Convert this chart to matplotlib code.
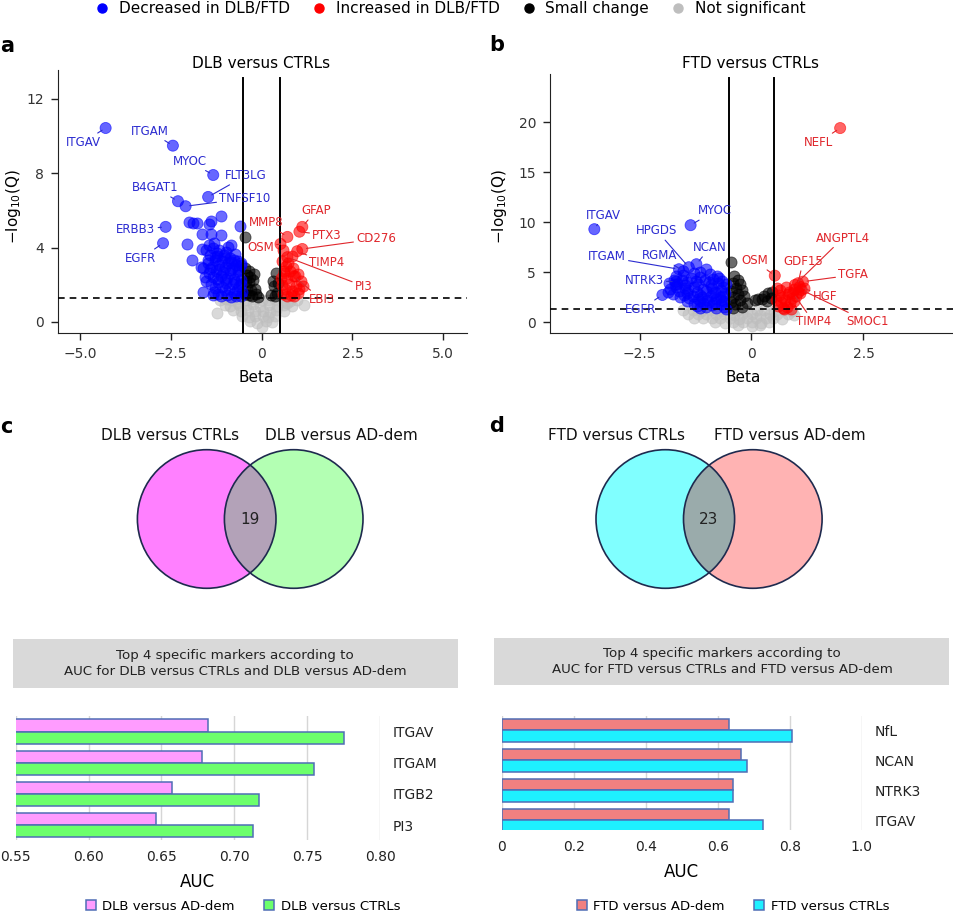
import numpy as np
import matplotlib.pyplot as plt
from matplotlib.patches import Circle, Rectangle, Patch
from matplotlib.lines import Line2D

plt.rcParams['font.family'] = ['DejaVu Sans']

# ============================================================
# DATA
# ============================================================
# --- a: DLB versus CTRLs (beta, -log10 Q) ---
dlb_dec_beta = [-1.13, -2.00, -1.90, -1.77, -1.40, -1.45, -0.60, -1.65, -1.38, -1.13,
                -2.06, -1.63, -1.31, -0.85, -1.91, -1.68, -1.61, -1.22, -0.76, -0.58,
                -1.52, -1.41, -1.33, -1.22, -1.17, -1.04, -0.97, -0.88, -0.73, -0.66,
                -1.48, -1.37, -1.29, -1.18, -1.09, -1.01, -0.92, -0.81, -0.71, -0.62,
                -1.44, -1.34, -1.26, -1.13, -1.06, -0.94, -0.86, -0.77, -0.64, -0.56,
                -1.38, -1.28, -1.21, -1.08, -0.99, -0.91, -0.79, -0.69, -0.61, -0.54,
                -1.19, -1.11, -0.96, -0.84, -0.71, -1.31, -1.57, -1.62,
                -1.47, -1.27, -1.02, -0.83, -0.58, -1.42, -1.16, -0.87, -0.66, -1.52,
                -1.24, -1.02, -0.73, -0.57, -1.33, -1.02, -0.76, -0.58, -1.46, -0.93]
dlb_dec_q = [5.68, 5.36, 5.30, 5.32, 5.41, 5.25, 5.15, 4.74, 4.74, 4.69,
             4.21, 3.92, 4.24, 4.16, 3.31, 2.95, 1.59, 3.53, 3.35, 3.17,
             3.88, 3.62, 3.97, 3.71, 3.86, 3.58, 3.77, 3.46, 3.63, 3.28,
             3.18, 2.97, 3.34, 3.06, 3.27, 2.96, 3.18, 2.92, 3.07, 2.83,
             2.63, 2.41, 2.74, 2.48, 2.68, 2.37, 2.62, 2.33, 2.52, 2.27,
             2.02, 1.83, 2.12, 1.88, 2.07, 1.78, 2.03, 1.74, 1.92, 1.62,
             1.52, 1.38, 1.47, 1.34, 1.41, 1.61, 2.42, 2.88,
             3.35, 3.49, 3.41, 3.21, 3.05, 2.82, 2.87, 2.81, 2.71, 2.21,
             2.31, 2.31, 2.16, 2.01, 1.42, 1.71, 1.55, 1.38, 4.12, 4.02]
dlb_inc_beta = [0.55, 0.66, 0.74, 0.86, 0.61, 0.71, 0.79, 0.91, 1.01, 1.09,
                0.56, 0.64, 0.76, 0.84, 0.96, 1.04, 1.14, 0.59, 0.69, 0.81,
                0.89, 0.99, 0.58, 0.85, 0.53, 0.63]
dlb_inc_q = [3.28, 3.02, 3.19, 2.88, 2.61, 2.37, 2.72, 2.49, 2.58, 2.21,
             1.98, 1.79, 2.03, 1.68, 1.92, 1.77, 1.95, 1.52, 1.39, 1.46,
             1.41, 1.53, 3.88, 3.55, 2.35, 2.75]
dlb_small_beta = [-0.46, -0.45, -0.36, -0.41, -0.31, -0.44, -0.34, -0.24, -0.39, -0.29,
                  -0.19, -0.46, -0.36, -0.26, -0.15, -0.09, -0.21, 0.41, 0.34, 0.43,
                  0.26, 0.31, 0.46, 0.38]
dlb_small_q = [4.57, 2.88, 2.76, 2.52, 2.41, 2.19, 2.12, 2.23, 1.81, 1.72,
               1.79, 1.52, 1.46, 1.41, 1.52, 1.36, 2.55, 2.63, 1.91, 1.55,
               1.47, 2.18, 2.08, 1.38]
dlb_ns_beta = [-1.22, -1.15, -0.98, -0.83, -0.64, -0.42, -0.21, 0.02, 0.18, 0.37, 0.58, 0.79, 0.97, 1.18,
               -1.02, -0.86, -0.61, -0.44, -0.23, -0.04, 0.21, 0.43, 0.62, 0.83,
               -0.78, -0.57, -0.38, -0.17, 0.05, 0.24, 0.41, 0.63,
               -0.55, -0.36, -0.18, 0.03, 0.19, 0.38,
               -0.31, -0.12, 0.11, 0.29, 0.01, -0.66, 0.71]
dlb_ns_q = [0.48, 1.18, 1.22, 1.15, 1.21, 1.17, 1.23, 1.19, 1.16, 1.22, 1.18, 1.14, 1.20, 0.92,
            0.91, 0.86, 0.93, 0.88, 0.94, 0.87, 0.90, 0.85, 0.92, 0.86,
            0.62, 0.57, 0.64, 0.59, 0.61, 0.55, 0.63, 0.58,
            0.31, 0.27, 0.33, 0.29, 0.26, 0.32,
            0.02, -0.04, 0.03, -0.02, -0.28, 1.00, 1.00]
dlb_genes = ['ITGAV', 'ITGAM', 'MYOC', 'FLT3LG', 'B4GAT1', 'TNFSF10', 'ERBB3', 'EGFR',
             'MMP8', 'OSM', 'GFAP', 'PTX3', 'CD276', 'TIMP4', 'PI3', 'EBI3']
dlb_gene_beta = [-4.29, -2.44, -1.33, -1.47, -2.30, -2.09, -2.64, -2.71,
                 0.71, 0.52, 1.12, 1.04, 1.12, 0.98, 0.71, 0.89]
dlb_gene_q = [10.43, 9.48, 7.90, 6.72, 6.49, 6.22, 5.11, 4.23,
              4.57, 4.19, 5.11, 4.85, 3.92, 3.80, 3.48, 2.45]

# --- b: FTD versus CTRLs ---
ftd_dec_beta = [-1.84, -1.74, -1.66, -1.56, -1.44, -1.36, -1.24, -1.16, -1.04, -0.96, -0.86, -0.74, -0.66, -0.56,
                -1.81, -1.69, -1.61, -1.49, -1.41, -1.29, -1.21, -1.09, -1.01, -0.89, -0.81, -0.69, -0.59,
                -1.59, -1.51, -1.39, -1.31, -1.19, -1.11, -0.99, -0.91, -0.79, -0.71, -0.61,
                -1.29, -1.21, -1.09, -1.01, -0.89, -0.79, -0.69, -0.61, -0.56,
                -1.28, -1.14, -0.93, -1.86, -1.02, -0.78, -1.68,
                -1.71, -1.49, -1.19, -0.91, -0.63, -1.76, -1.44, -1.15, -0.86, -0.64,
                -1.44, -1.16, -0.94, -0.67, -1.14, -0.84, -1.52, -0.72]
ftd_dec_q = [3.97, 4.18, 3.82, 4.27, 4.03, 4.41, 4.12, 4.48, 4.19, 4.02, 4.31, 3.88, 4.12, 3.79,
             3.32, 3.48, 3.12, 3.41, 3.18, 3.52, 3.03, 3.31, 3.08, 3.42, 3.02, 3.21, 2.88,
             2.52, 2.71, 2.38, 2.62, 2.28, 2.53, 2.21, 2.58, 2.31, 2.49, 2.12,
             1.82, 1.61, 1.88, 1.52, 1.71, 1.42, 1.79, 1.51, 1.33,
             4.92, 5.02, 4.83, 3.02, 5.31, 4.62, 4.60,
             3.78, 3.72, 3.79, 3.71, 3.51, 2.86, 2.92, 2.71, 2.92, 2.62,
             2.09, 2.11, 1.98, 2.21, 1.41, 1.92, 4.71, 4.45]
ftd_inc_beta = [0.56, 0.64, 0.76, 0.84, 0.96, 1.04, 0.61, 0.69, 0.81, 0.91, 0.99, 0.54,
                0.66, 0.74, 0.86, 0.94, 0.59, 0.71, 0.79, 0.89, 1.09, 1.18, 0.73]
ftd_inc_q = [3.42, 3.18, 3.52, 3.03, 3.31, 2.98, 2.72, 2.48, 2.81, 2.42, 2.63, 2.21,
             1.98, 2.24, 1.92, 2.12, 1.62, 1.41, 1.52, 1.33, 2.90, 3.45, 1.36]
ftd_small_beta = [-0.45, -0.38, -0.31, -0.42, -0.26, -0.35, -0.46, -0.21, -0.31, -0.41, -0.16, -0.26,
                  -0.45, -0.36, -0.11, -0.21, -0.41, 0.29, 0.37, 0.44, 0.34, 0.24, 0.46, 0.15, 0.08]
ftd_small_q = [6.06, 4.62, 4.21, 3.93, 3.82, 3.41, 3.08, 3.18, 2.83, 2.52, 2.61, 2.22,
               2.01, 1.83, 1.92, 1.52, 1.47, 2.62, 2.91, 2.42, 2.13, 2.28, 3.02, 2.35, 2.20]
ftd_ns_beta = [-1.52, -1.31, -1.12, -0.91, -0.69, -0.48, -0.31, -0.09, 0.12, 0.29, 0.51, 0.72, 0.91,
               -1.41, -1.19, -1.02, -0.79, -0.62, -0.38, -0.21, 0.02, 0.19, 0.41, 0.58, 0.81, 0.95,
               -1.28, -1.09, -0.88, -0.71, -0.49, -0.28, -0.11, 0.09, 0.32, 0.49, 0.68,
               -0.81, -0.59, -0.42, -0.18, 0.01, 0.22, 0.38, -0.31, 0.02, 0.19]
ftd_ns_q = [1.18, 1.22, 1.15, 1.21, 1.17, 1.23, 1.19, 1.16, 1.22, 1.18, 1.14, 1.20, 1.12,
            0.82, 0.78, 0.85, 0.79, 0.84, 0.77, 0.83, 0.80, 0.76, 0.84, 0.79, 0.82, 0.77,
            0.42, 0.38, 0.45, 0.39, 0.43, 0.37, 0.41, 0.44, 0.38, 0.42, 0.36,
            0.02, -0.03, 0.04, -0.01, 0.03, -0.04, 0.01, -0.32, -0.38, -0.30]
ftd_genes = ['NEFL', 'ITGAV', 'MYOC', 'HPGDS', 'ITGAM', 'RGMA', 'NCAN', 'NTRK3', 'EGFR',
             'OSM', 'ANGPTL4', 'GDF15', 'TGFA', 'HGF', 'TIMP4', 'SMOC1']
ftd_gene_beta = [1.98, -3.51, -1.36, -1.40, -1.62, -1.52, -1.23, -1.68, -1.99,
                 0.52, 0.97, 1.04, 1.15, 1.08, 0.93, 1.12]
ftd_gene_q = [19.4, 9.3, 9.7, 5.5, 5.3, 5.1, 5.8, 4.06, 2.73,
              4.66, 3.73, 3.90, 4.06, 3.56, 2.90, 3.23]

# --- c / d: Venn overlaps and AUC bars ---
venn_c_sets = ['DLB versus CTRLs', 'DLB versus AD-dem']
venn_c_overlap = 19
venn_d_sets = ['FTD versus CTRLs', 'FTD versus AD-dem']
venn_d_overlap = 23

c_markers = ['ITGAV', 'ITGAM', 'ITGB2', 'PI3']
c_auc_addem = [0.682, 0.678, 0.657, 0.646]
c_auc_ctrl = [0.775, 0.755, 0.717, 0.713]
d_markers = ['NfL', 'NCAN', 'NTRK3', 'ITGAV']
d_auc_addem = [0.632, 0.666, 0.643, 0.632]
d_auc_ctrl = [0.805, 0.681, 0.643, 0.726]

# ============================================================
# LAYOUT (pixel helpers)
# ============================================================
W, H = 954, 911
fig = plt.figure(figsize=(W / 100, H / 100), dpi=100)


def rect(l, t, r, b):
    return [l / W, 1 - b / H, (r - l) / W, (b - t) / H]


def fxy(px, py):
    return px / W, 1 - py / H


COLS = {'dec': '#0000FF', 'inc': '#FF0000', 'small': '#000000', 'ns': '#BEBEBE'}
TXT = {'dec': '#2B2BD0', 'inc': '#E0262B'}

# label positions (data coords) for the gene names
dlb_lab_pos = {'ITGAV': (-4.91, 9.66), 'ITGAM': (-3.07, 10.25), 'MYOC': (-1.98, 8.64),
               'FLT3LG': (-0.43, 7.87), 'B4GAT1': (-2.93, 7.22), 'TNFSF10': (-0.46, 6.63),
               'ERBB3': (-3.46, 4.96), 'EGFR': (-3.32, 3.42), 'MMP8': (0.14, 5.32),
               'OSM': (-0.03, 4.01), 'GFAP': (1.49, 5.98), 'PTX3': (1.80, 4.66),
               'CD276': (3.15, 4.46), 'TIMP4': (1.80, 3.17), 'PI3': (2.81, 1.92),
               'EBI3': (1.65, 1.20)}
ftd_lab_pos = {'NEFL': (1.49, 17.96), 'ITGAV': (-3.30, 10.7), 'MYOC': (-0.82, 11.13),
               'HPGDS': (-2.11, 9.13), 'ITGAM': (-3.23, 6.53), 'RGMA': (-2.05, 6.63),
               'NCAN': (-0.93, 7.46), 'NTRK3': (-2.40, 4.16), 'EGFR': (-2.48, 1.30),
               'OSM': (0.07, 6.16), 'ANGPTL4': (2.04, 8.40), 'GDF15': (1.15, 6.06),
               'TGFA': (2.27, 4.73), 'HGF': (1.64, 2.56), 'TIMP4': (1.38, 0.06),
               'SMOC1': (2.59, 0.06)}


def volcano(ax, pts, genes, gb, gq, lab_pos, xlim, ylim, xt, xtl, yt, vtop):
    for key in ['ns', 'small', 'dec', 'inc']:
        bx, qy = pts[key]
        ax.scatter(bx, qy, s=64, color=COLS[key], alpha=0.58,
                   edgecolors=COLS[key], linewidths=0.6, zorder=2)
    kinds = ['dec' if b < 0 else 'inc' for b in gb]
    ax.scatter(gb, gq, s=64, color=[COLS[k] for k in kinds], alpha=0.6,
               edgecolors=[COLS[k] for k in kinds], linewidths=0.6, zorder=2)
    ax.axvline(-0.5, ymax=vtop, color='black', lw=1.4, zorder=3)
    ax.axvline(0.5, ymax=vtop, color='black', lw=1.4, zorder=3)
    ax.axhline(1.3, color='black', lw=1.2, ls=(0, (4, 3)), zorder=3)
    for g, b, v, k in zip(genes, gb, gq, kinds):
        ax.annotate(g, xy=(b, v), xytext=lab_pos[g], ha='center', va='center',
                    color=TXT[k], fontsize=8.5, zorder=4,
                    arrowprops=dict(arrowstyle='-', color=TXT[k], lw=0.8,
                                    shrinkA=0, shrinkB=3))
    ax.set_xlim(xlim)
    ax.set_ylim(ylim)
    ax.set_xticks(xt)
    ax.set_xticklabels(xtl)
    ax.set_yticks(yt)
    ax.spines[['top', 'right']].set_visible(False)
    ax.spines[['left', 'bottom']].set_color('#222222')
    ax.tick_params(labelsize=10, length=5, width=1, pad=5, color='#222222', labelcolor='#333333')


ax_a = fig.add_axes(rect(58, 70, 467, 333))
volcano(ax_a,
        {'dec': (dlb_dec_beta, dlb_dec_q), 'inc': (dlb_inc_beta, dlb_inc_q),
         'small': (dlb_small_beta, dlb_small_q), 'ns': (dlb_ns_beta, dlb_ns_q)},
        dlb_genes, dlb_gene_beta, dlb_gene_q, dlb_lab_pos,
        (-5.6, 5.65), (-0.6, 13.55), [-5, -2.5, 0, 2.5, 5],
        ['\u22125.0', '\u22122.5', '0', '2.5', '5.0'], [0, 4, 8, 12], 0.97)

ax_b = fig.add_axes(rect(550, 74, 953, 333))
volcano(ax_b,
        {'dec': (ftd_dec_beta, ftd_dec_q), 'inc': (ftd_inc_beta, ftd_inc_q),
         'small': (ftd_small_beta, ftd_small_q), 'ns': (ftd_ns_beta, ftd_ns_q)},
        ftd_genes, ftd_gene_beta, ftd_gene_q, ftd_lab_pos,
        (-4.5, 4.5), (-1.07, 24.8), [-2.5, 0, 2.5],
        ['\u22122.5', '0', '2.5'], [0, 5, 10, 15, 20], 0.983)

# titles and axis labels of volcano plots
fig.text(*fxy(261, 63), 'DLB versus CTRLs', ha='center', va='center', fontsize=11)
fig.text(*fxy(751, 63), 'FTD versus CTRLs', ha='center', va='center', fontsize=11)
fig.text(*fxy(256, 377), 'Beta', ha='center', va='center', fontsize=11)
fig.text(*fxy(743, 377), 'Beta', ha='center', va='center', fontsize=11)
fig.text(*fxy(14, 207), '\u2212log$_{10}$(Q)', ha='center', va='center', rotation=90, fontsize=11)
fig.text(*fxy(500, 207), '\u2212log$_{10}$(Q)', ha='center', va='center', rotation=90, fontsize=11)

# panel letters
for lab, (px, py) in zip('abcd', [(7, 46), (497, 45), (6, 427), (497, 426)]):
    fig.text(*fxy(px, py), lab, ha='center', va='center', fontsize=15, fontweight='bold')

# top legend
leg_handles = [Line2D([], [], ls='', marker='o', ms=6.5, color=COLS[k]) for k in ['dec', 'inc', 'small', 'ns']]
fig.legend(leg_handles, ['Decreased in DLB/FTD', 'Increased in DLB/FTD', 'Small change', 'Not significant'],
           loc='center', bbox_to_anchor=fxy(450, 9), ncol=4, frameon=False, fontsize=11,
           handletextpad=0.6, columnspacing=1.4, handlelength=1.0, borderaxespad=0, borderpad=0)

# ============================================================
# VENN DIAGRAMS + HEADER BOXES (overlay in pixel coords)
# ============================================================
ov = fig.add_axes([0, 0, 1, 1])
ov.set_xlim(0, W)
ov.set_ylim(H, 0)
ov.axis('off')


def venn(cl, cr, cy, r, cols, count, names, name_x):
    c1 = Circle((cl, cy), r, facecolor=cols[0], edgecolor='none')
    c2 = Circle((cr, cy), r, facecolor=cols[1], edgecolor='none')
    ov.add_patch(c1)
    ov.add_patch(c2)
    lens = Circle((cl, cy), r, facecolor=cols[2], edgecolor='none')
    ov.add_patch(lens)
    lens.set_clip_path(c2)
    for c in (cl, cr):
        ov.add_patch(Circle((c, cy), r, fill=False, edgecolor='#1E2A4E', lw=1.2))
    ov.text((cl + cr) / 2, cy + 1, str(count), ha='center', va='center', fontsize=11, color='#222222')
    for nm, nx in zip(names, name_x):
        ov.text(nx, 436, nm, ha='center', va='center', fontsize=11, color='#111111')


venn(206.7, 293.7, 519, 69.3, ['#FF80FF', '#B3FFB3', '#B3A2B8'], venn_c_overlap, venn_c_sets, [170, 341])
venn(665.3, 752.8, 519, 69.3, ['#80FFFF', '#FFB3B3', '#9AABAB'], venn_d_overlap, venn_d_sets, [617, 790])

ov.add_patch(Rectangle((12.7, 639.3), 445, 48.4, facecolor='#D9D9D9', edgecolor='none'))
ov.text(235, 663.5, 'Top 4 specific markers according to\nAUC for DLB versus CTRLs and DLB versus AD-dem',
        ha='center', va='center', fontsize=9.6, linespacing=1.3, color='#222222')
ov.add_patch(Rectangle((494.3, 637.7), 455, 47.3, facecolor='#D9D9D9', edgecolor='none'))
ov.text(722, 661.5, 'Top 4 specific markers according to\nAUC for FTD versus CTRLs and FTD versus AD-dem',
        ha='center', va='center', fontsize=9.6, linespacing=1.3, color='#222222')

# ============================================================
# AUC BAR CHARTS
# ============================================================
EDGE = '#4F6DB5'


def auc_bars(ax, markers, v_ad, v_ctrl, c_ad, c_ctrl, lab_ad, lab_ctrl, xlim, xt, xtl, ylim, leg_x):
    y = np.arange(len(markers))
    h = 0.39
    ax.barh(y - h / 2, v_ad, height=h, color=c_ad, edgecolor=EDGE, lw=1.1, zorder=2)
    ax.barh(y + h / 2, v_ctrl, height=h, color=c_ctrl, edgecolor=EDGE, lw=1.1, zorder=2)
    ax.set_xlim(xlim)
    ax.set_ylim(ylim)
    ax.set_xticks(xt)
    ax.set_xticklabels(xtl)
    ax.grid(axis='x', color='#D6D6D6', lw=1)
    ax.set_axisbelow(True)
    for s in ax.spines.values():
        s.set_visible(False)
    ax.yaxis.tick_right()
    ax.set_yticks(y)
    ax.set_yticklabels(markers)
    ax.tick_params(axis='y', length=0, pad=9, labelsize=10, labelcolor='#222222')
    ax.tick_params(axis='x', length=0, pad=7, labelsize=10, labelcolor='#222222')
    ax.set_xlabel('AUC', fontsize=12, labelpad=7)
    hs = [Patch(facecolor=c_ad, edgecolor=EDGE, lw=1.1), Patch(facecolor=c_ctrl, edgecolor=EDGE, lw=1.1)]
    ax.legend(hs, [lab_ad, lab_ctrl], loc='center', bbox_to_anchor=fxy(leg_x, 906),
              bbox_transform=fig.transFigure, ncol=2, frameon=False, fontsize=9.5,
              handlelength=0.75, handleheight=0.75, handletextpad=0.5, columnspacing=2.2)


ax_c = fig.add_axes(rect(15.7, 716, 380, 840))
auc_bars(ax_c, c_markers, c_auc_addem, c_auc_ctrl, '#FF9CFF', '#6CFF6C',
         'DLB versus AD-dem', 'DLB versus CTRLs', (0.55, 0.80),
         [0.55, 0.60, 0.65, 0.70, 0.75, 0.80], ['0.55', '0.60', '0.65', '0.70', '0.75', '0.80'],
         (3.48, -0.5), 243)

ax_d = fig.add_axes(rect(501.7, 716, 861.7, 830))
auc_bars(ax_d, d_markers, d_auc_addem, d_auc_ctrl, '#F08080', '#1EF0FF',
         'FTD versus AD-dem', 'FTD versus CTRLs', (0, 1.0),
         [0, 0.2, 0.4, 0.6, 0.8, 1.0], ['0', '0.2', '0.4', '0.6', '0.8', '1.0'],
         (3.32, -0.48), 733)

plt.savefig('out.png', dpi=100)
